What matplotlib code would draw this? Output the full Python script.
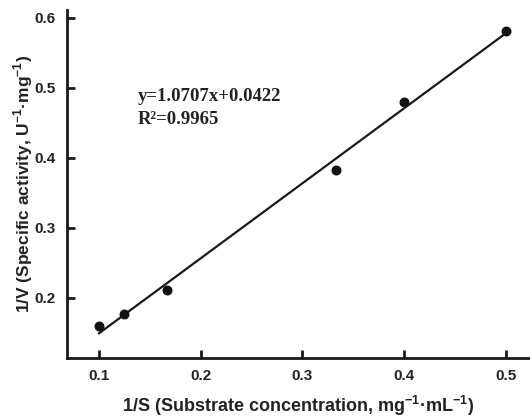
import numpy as np
import matplotlib.pyplot as plt

# Lineweaver-Burk data
inv_s = [0.1, 0.125, 0.1667, 0.3333, 0.4, 0.5]
inv_v = [0.160, 0.177, 0.211, 0.382, 0.480, 0.581]
slope = 1.0707
intercept = 0.0422

plt.rcParams['font.family'] = ['Liberation Sans', 'DejaVu Sans']
plt.rcParams['mathtext.fontset'] = 'custom'
plt.rcParams['mathtext.bf'] = 'Liberation Sans:bold'
plt.rcParams['mathtext.rm'] = 'Liberation Sans:bold'

fig = plt.figure(figsize=(5.30, 4.17), dpi=100)
ax = fig.add_axes([0.1264, 0.1415, 0.8736, 0.8345])

xfit = np.array([inv_s[0], inv_s[-1]])
ax.plot(xfit, slope * xfit + intercept, color='#1a1a1a', lw=1.6)
ax.scatter(inv_s, inv_v, s=38, color='#111111', zorder=3)

ax.set_xlim(0.0685, 0.524)
ax.set_ylim(0.114, 0.611)
ax.set_xticks([0.1, 0.2, 0.3, 0.4, 0.5])
ax.set_yticks([0.2, 0.3, 0.4, 0.5, 0.6])

for s in ['top', 'right']:
    ax.spines[s].set_visible(False)
for s in ['left', 'bottom']:
    ax.spines[s].set_linewidth(2)
    ax.spines[s].set_color('#1a1a1a')
ax.tick_params(direction='in', length=6, width=2, color='#1a1a1a',
               labelsize=11, pad=8)
for lab in ax.get_xticklabels() + ax.get_yticklabels():
    lab.set_fontweight('bold')
    lab.set_color('#222222')

ax.set_xlabel('1/S (Substrate concentration, mg$^{\\mathrm{-1}}$·mL$^{\\mathrm{-1}}$)',
              fontsize=13, fontweight='bold', color='#222222', labelpad=8)
ax.set_ylabel('1/V (Specific activity, U$^{\\mathrm{-1}}$·mg$^{\\mathrm{-1}}$)',
              fontsize=12.5, fontweight='bold', color='#222222', labelpad=0)

ax.text(0.138, 0.487, 'y=1.0707x+0.0422', family='Liberation Serif',
        fontweight='bold', fontsize=13.5, color='#222222', va='center')
ax.text(0.138, 0.454, 'R²=0.9965', family='Liberation Serif',
        fontweight='bold', fontsize=13.5, color='#222222', va='center')

fig.savefig('out.png', dpi=100)
